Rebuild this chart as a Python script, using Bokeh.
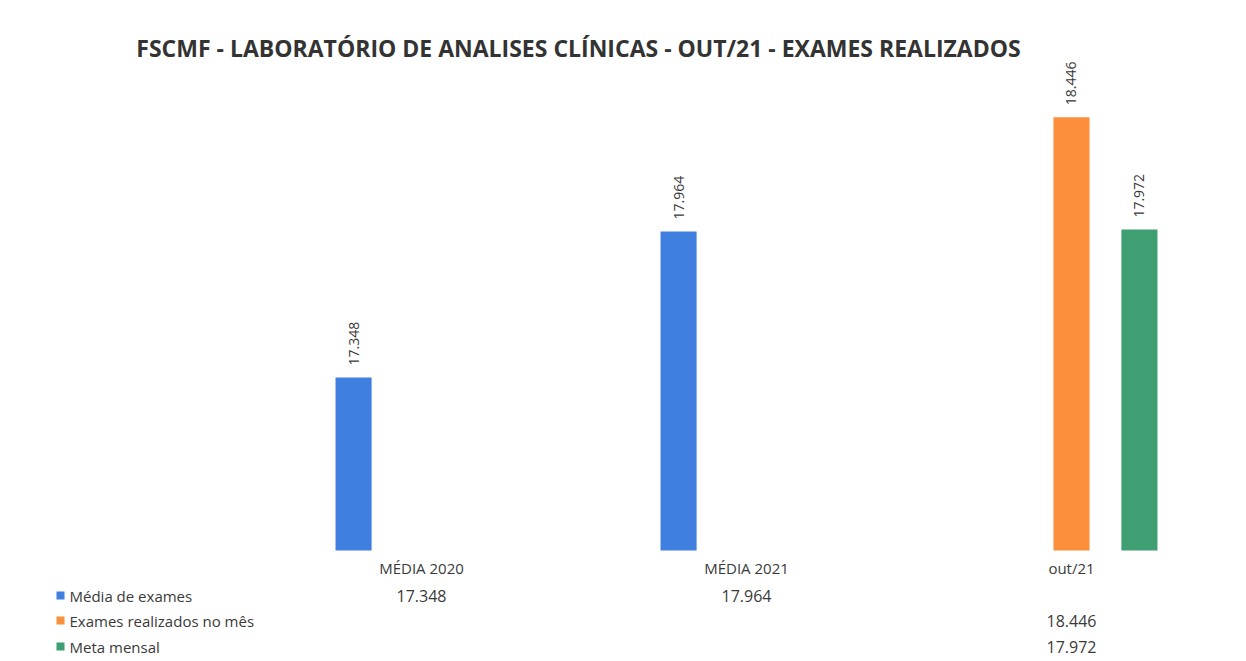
from bokeh.plotting import figure
from bokeh.models import Range1d, ColumnDataSource, LabelSet
from bokeh.core.properties import value
from bokeh.embed import file_html
from bokeh.resources import INLINE

# ---- data ----
title = "FSCMF - LABORATÓRIO DE ANALISES CLÍNICAS - OUT/21 - EXAMES REALIZADOS"
categories = ["MÉDIA 2020", "MÉDIA 2021", "out/21"]
series_names = ["Média de exames", "Exames realizados no mês", "Meta mensal"]
media_exames = [17348, 17964, None]
exames_mes = [None, None, 18446]
meta_mensal = [None, None, 17972]
axis_min = 16618  # value at the bars' baseline

colors = ["#3f7fe0", "#fb8f3c", "#3f9e72"]
series_values = [media_exames, exames_mes, meta_mensal]

def fmt(v):
    return f"{v:,}".replace(",", ".")

# ---- geometry (layout only) ----
W, H = 1230, 658
CAT_PX = 325.0          # pixels per category
CAT0_PX = 421.0         # centre of first category, canvas px
YPX = 0.237             # pixels per exam
BASE_PX = 550.0         # baseline, canvas px from top
XS = -CAT0_PX / CAT_PX
XE = XS + W / CAT_PX
YE = axis_min + BASE_PX / YPX
YS = YE - H / YPX

def sx(px):
    return XS + px / CAT_PX

def sy(py):
    return YE - py / YPX

p = figure(width=W, height=H, output_backend="svg", toolbar_location=None,
           x_range=Range1d(XS, XE), y_range=Range1d(YS, YE),
           x_axis_location=None, y_axis_location=None, min_border=0)
p.grid.visible = False
p.outline_line_color = None
p.background_fill_color = "white"
p.border_fill_color = "white"

offsets = [-0.209, 0.0, 0.209]
bar_w = 0.111
text_color = "#3a3a3a"
FONT = "Open Sans"

for si, (vals, col) in enumerate(zip(series_values, colors)):
    xs, tops, labels = [], [], []
    for ci, v in enumerate(vals):
        if v is None:
            continue
        xs.append(ci + offsets[si])
        tops.append(v)
        labels.append(fmt(v))
    src = ColumnDataSource(dict(x=xs, top=tops, label=labels))
    p.vbar(x="x", top="top", bottom=axis_min, width=bar_w, source=src,
           fill_color=col, line_color=None)
    p.add_layout(LabelSet(x="x", y="top", text="label", source=src, angle=1.5708,
                          text_align="left", text_baseline="middle", y_offset=12,
                          text_font=value(FONT), text_font_size="14px",
                          text_color=text_color))

# category labels
cat_src = ColumnDataSource(dict(x=list(range(len(categories))),
                                y=[sy(567)] * len(categories), t=categories))
p.text(x="x", y="y", text="t", source=cat_src, text_align="center",
       text_baseline="middle", text_font=value(FONT), text_font_size="15px",
       text_color=text_color)

# data table rows + legend keys
row_py = [595, 620, 646]
for si, (vals, col, name) in enumerate(zip(series_values, colors, series_names)):
    ry = sy(row_py[si])
    p.scatter(x=[sx(60)], y=[ry], marker="square", size=8, fill_color=col,
              line_color=None)
    p.text(x=[sx(69)], y=[ry], text=[name], text_align="left", text_baseline="middle",
           text_font=value(FONT), text_font_size="15px", text_color=text_color)
    xs = [ci for ci, v in enumerate(vals) if v is not None]
    ts = [fmt(v) for v in vals if v is not None]
    p.text(x=xs, y=[ry] * len(xs), text=ts, text_align="center", text_baseline="middle",
           text_font=value(FONT), text_font_size="16px", text_color=text_color)

# title
p.text(x=[sx(578)], y=[sy(47)], text=[title], text_align="center",
       text_baseline="middle", text_font=value(FONT), text_font_size="23px",
       text_font_style="bold", text_color="#333333")

open("out.html", "w").write(file_html(p, INLINE))
